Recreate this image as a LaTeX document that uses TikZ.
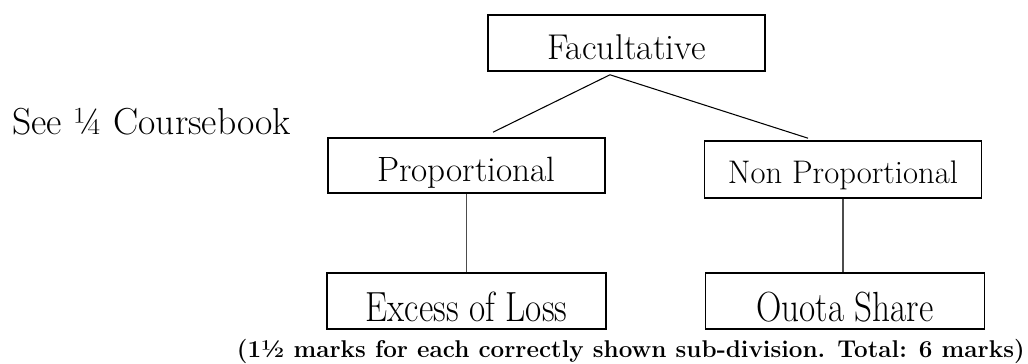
\documentclass[tikz,border=0pt]{standalone}
\usepackage{fontspec}
\usepackage{graphicx}
\usetikzlibrary{positioning}

% stretched text for the lowest row of boxes
\newcommand\tallbox[1]{\scalebox{1}[1.2]{#1}}

\begin{document}
\begin{tikzpicture}[x=0.02cm, y=-0.02cm,
  catbox/.style={draw, line width=0.9pt, minimum width=5.54cm, minimum height=1.1cm,
    inner sep=0pt, text height=0.66cm, text depth=0pt, font=\fontsize{20}{22}\selectfont},
  subbox/.style={catbox, minimum width=5.58cm, minimum height=1.12cm, text height=0.84cm},
  link/.style={line width=0.6pt},
  drop/.style={line width=0.7pt, black!70}]

  \useasboundingbox (0,0) rectangle (1028,364);

  % top of the tree
  \node[catbox, minimum height=1.12cm, font=\fontsize{20.4}{22}\selectfont] (fac) at (626.5,43) {Facultative};

  % the two kinds
  \node[catbox] (prop) at (466.5,165.5) {Proportional};
  \node[catbox, minimum height=1.14cm, text height=0.56cm, font=\fontsize{18.6}{21}\selectfont] (nonprop) at (843,169.5) {Non Proportional};

  % sub-divisions
  \node[subbox] (xol) at (466.5,301) {\tallbox{Excess of Loss}};
  \node[subbox] (quota) at (845,301) {\tallbox{Ouota Share}};

  % branch points
  \coordinate (split) at ([xshift=-0.33cm,yshift=-0.06cm]fac.south);
  \coordinate (propin) at ([xshift=0.53cm,yshift=0.1cm]prop.north);
  \coordinate (nonpropin) at ([xshift=-0.7cm,yshift=0.04cm]nonprop.north);

  \draw[link] (split) -- (propin);
  \draw[link] (split) -- (nonpropin);
  \draw[drop] (prop.south) -- (prop.south |- xol.north);
  \draw[drop] (nonprop.south) -- (nonprop.south |- quota.north);

  % side remark and marking note
  \node[anchor=base west, inner sep=0pt, font=\fontsize{21.4}{24}\selectfont] (see) at (12,135) {See ¼ Coursebook};
  \node[anchor=base east, inner sep=0pt, font=\bfseries\fontsize{13.8}{16}\selectfont] (note) at (1025,358)
    {(1½ marks for each correctly shown sub-division. Total: 6 marks)};

\end{tikzpicture}
\end{document}
